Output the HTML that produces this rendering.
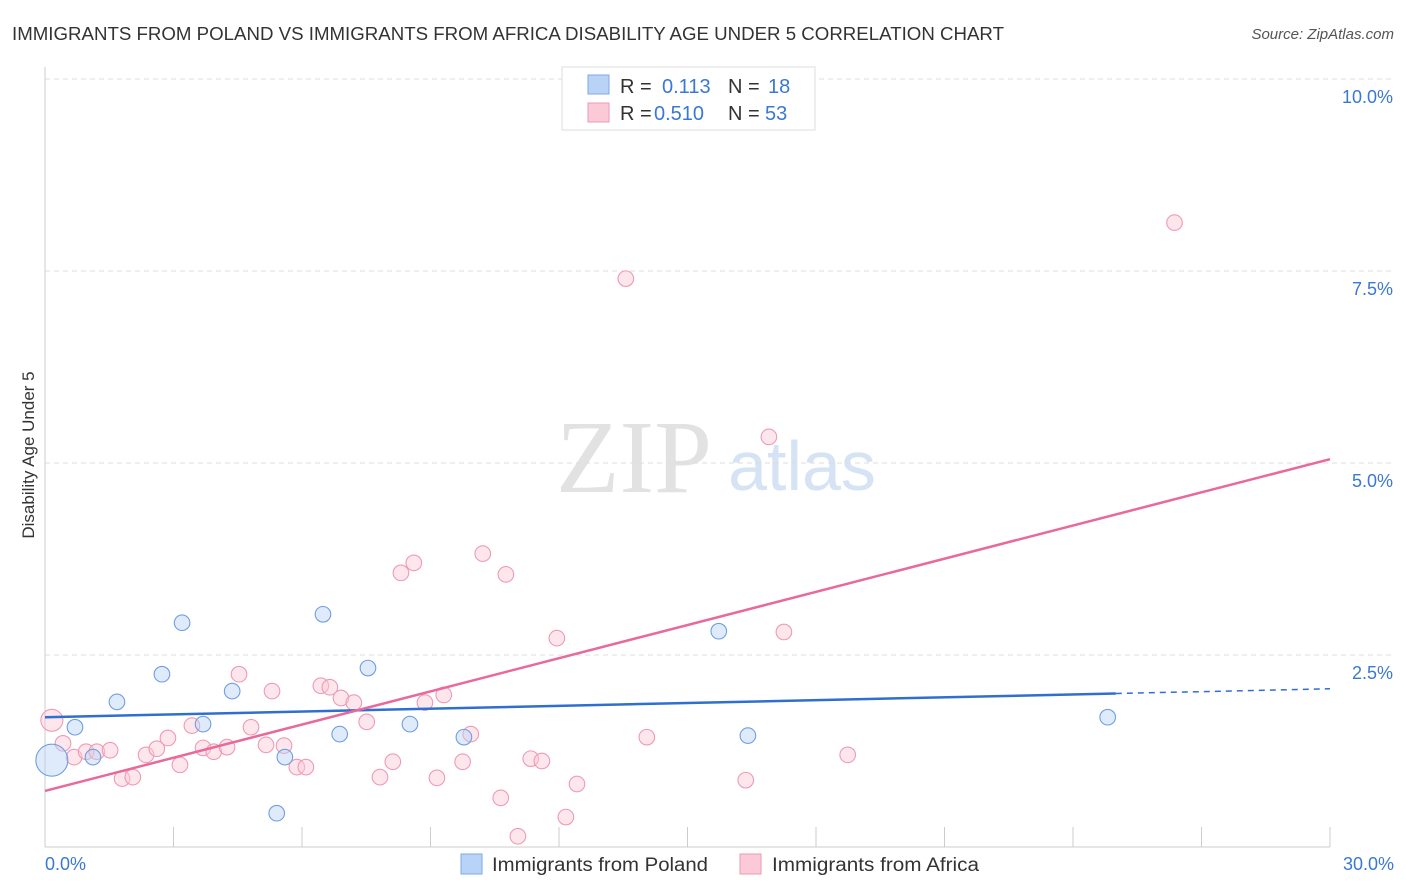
<!DOCTYPE html>
<html><head><meta charset="utf-8"><style>
body{margin:0;background:#fff;font-family:"Liberation Sans",sans-serif;}
#wrap{position:relative;width:1406px;height:892px;overflow:hidden;}
</style></head><body>
<div id="wrap">
<svg id="svg" width="1406" height="892" xmlns="http://www.w3.org/2000/svg">
<text x="12" y="40" font-size="18" fill="#333" textLength="992" lengthAdjust="spacingAndGlyphs">IMMIGRANTS FROM POLAND VS IMMIGRANTS FROM AFRICA DISABILITY AGE UNDER 5 CORRELATION CHART</text>
<text x="1394" y="39" font-size="15" fill="#555" font-style="italic" text-anchor="end">Source: ZipAtlas.com</text>
<text x="634" y="492" font-size="104" fill="#e2e2e2" font-family="Liberation Serif,serif" text-anchor="middle">ZIP</text>
<text x="802" y="490" font-size="70" fill="#d5e3f5" text-anchor="middle">atlas</text>
<text transform="translate(34,455) rotate(-90)" font-size="17" fill="#333" text-anchor="middle">Disability Age Under 5</text>
<g id="grid"></g><g id="marks"></g>
<g>
<rect x="562" y="67" width="253" height="63" fill="#fff" stroke="#ddd"/>
<rect x="588" y="75" width="21" height="19" fill="#b8d3f5" stroke="#7eaae6"/>
<rect x="588" y="103" width="21" height="19" fill="#fbc9d8" stroke="#ef9ab5"/>
<text x="620" y="93" font-size="20" fill="#333">R = </text><text x="662" y="93" font-size="20" fill="#3a78d4">0.113</text>
<text x="728" y="93" font-size="20" fill="#333">N = </text><text x="768" y="93" font-size="20" fill="#3a78d4">18</text>
<text x="620" y="120" font-size="20" fill="#333">R = </text><text x="654" y="120" font-size="20" fill="#3a78d4">0.510</text>
<text x="728" y="120" font-size="20" fill="#333">N = </text><text x="765" y="120" font-size="20" fill="#3a78d4">53</text>
</g>
<g>
<rect x="461" y="854" width="21" height="20" fill="#b8d3f5" stroke="#7eaae6"/>
<text x="492" y="871" font-size="19" fill="#333" textLength="216" lengthAdjust="spacingAndGlyphs">Immigrants from Poland</text>
<rect x="740" y="854" width="21" height="20" fill="#fbc9d8" stroke="#ef9ab5"/>
<text x="772" y="871" font-size="19" fill="#333" textLength="207" lengthAdjust="spacingAndGlyphs">Immigrants from Africa</text>
</g>
</svg>
</div>
<script>
const polandX=[0.16,0.70,1.12,1.68,2.73,3.20,3.69,4.37,5.41,5.60,6.49,6.88,7.54,8.52,9.78,15.73,16.41,24.81];
const polandY=[1.13,1.56,1.17,1.89,2.25,2.92,1.60,2.03,0.44,1.17,3.03,1.47,2.33,1.60,1.43,2.81,1.45,1.69];
const africaX=[0.16,0.42,0.68,0.96,1.21,1.52,1.80,2.05,2.36,2.61,2.87,3.15,3.43,3.69,3.94,4.25,4.53,4.81,5.16,5.30,5.58,5.88,6.09,6.44,6.65,6.91,7.21,7.51,7.82,8.12,8.31,8.61,8.87,9.15,9.31,9.75,9.94,10.22,10.64,10.76,11.04,11.34,11.60,11.95,12.16,12.42,13.56,14.05,16.36,16.90,17.25,18.74,26.37];
const africaY=[1.65,1.35,1.17,1.24,1.24,1.26,0.89,0.91,1.20,1.28,1.42,1.07,1.58,1.29,1.24,1.30,2.25,1.56,1.33,2.03,1.32,1.04,1.04,2.10,2.08,1.94,1.88,1.63,0.91,1.11,3.57,3.70,1.88,0.90,1.98,1.11,1.47,3.82,0.64,3.55,0.14,1.15,1.12,2.72,0.39,0.82,7.40,1.43,0.87,5.34,2.80,1.20,8.13];
const polandTrend=[1.69,2.06];
const africaTrend=[0.73,5.05];
const yTicks=[2.5,5.0,7.5,10.0];
const xTickLabels=["0.0%","30.0%"];
const NS="http://www.w3.org/2000/svg";
const sx=v=>45+v*(1285/30), sy=v=>847-v*76.8;
function mk(t,a,p){const e=document.createElementNS(NS,t);for(const k in a)e.setAttribute(k,a[k]);p.appendChild(e);return e;}
const g=document.getElementById('grid'), m=document.getElementById('marks');
yTicks.forEach(t=>{
 const l=mk('line',{x1:45,x2:1394,y1:sy(t),y2:sy(t),stroke:'#ddd','stroke-dasharray':'5,4'},g);
 
 
 const tx=mk('text',{x:1393,y:sy(t)+24,'font-size':18,fill:'#3a78d4','text-anchor':'end'},g);
 tx.textContent=t.toFixed(1)+'%';
 
 
});
mk('line',{x1:45,x2:45,y1:67,y2:847,stroke:'#ccc'},g);
mk('line',{x1:45,x2:1330,y1:847,y2:847,stroke:'#ccc'},g);
for(let i=0;i<=10;i++){const l=mk('line',{x1:sx(i*3),x2:sx(i*3),y1:827,y2:847,stroke:'#ccc'},g);
 
 }
[[45,'start'],[1394,'end']].forEach((p,i)=>{const t=mk('text',{x:p[0],y:870,'font-size':18,fill:'#3a78d4','text-anchor':p[1]},g);t.textContent=xTickLabels[i];
 
 });
function dots(X,Y,fill,stroke,name){X.forEach((x,i)=>{const r=(i==0&&name=='poland-point')?16:(i==0?11:7.8);
 const c=mk('circle',{cx:sx(x),cy:sy(Y[i]),r:r,fill:fill,'fill-opacity':0.45,stroke:stroke,'stroke-width':1.1},m);
 
 });}
dots(africaX,africaY,'#fbc9d8','#ef9ab5','africa-point');
dots(polandX,polandY,'#b8d3f5','#6f9fe0','poland-point');
const pe=25;
let l1=mk('line',{x1:sx(0),y1:sy(polandTrend[0]),x2:sx(pe),y2:sy(polandTrend[0]+(polandTrend[1]-polandTrend[0])*pe/30),stroke:'#2f6fd0','stroke-width':2.5},m);


let l2=mk('line',{x1:sx(pe),y1:sy(polandTrend[0]+(polandTrend[1]-polandTrend[0])*pe/30),x2:sx(30),y2:sy(polandTrend[1]),stroke:'#2f6fd0','stroke-width':1.5,'stroke-dasharray':'6,5'},m);


let l3=mk('line',{x1:sx(0),y1:sy(africaTrend[0]),x2:sx(30),y2:sy(africaTrend[1]),stroke:'#e8699a','stroke-width':2.5},m);


</script>
</body></html>
